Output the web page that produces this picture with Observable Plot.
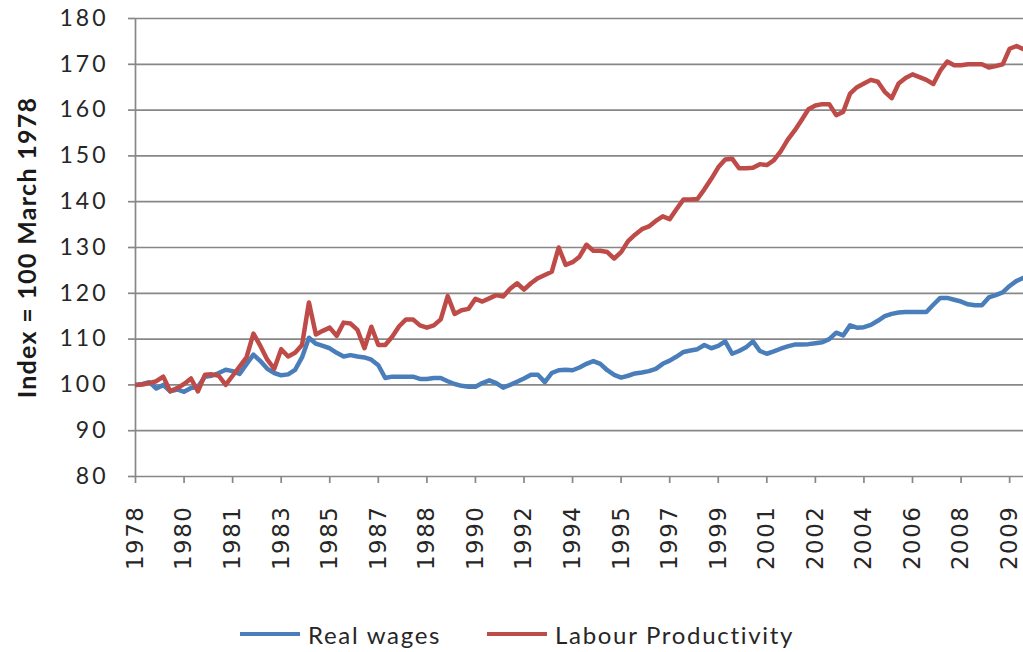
<!DOCTYPE html>
<html>
<head>
<meta charset="utf-8">
<script src="https://cdn.jsdelivr.net/npm/d3@7"></script>
<script src="https://cdn.jsdelivr.net/npm/@observablehq/plot@0.6"></script>
<style>
  html, body { margin: 0; padding: 0; background: #fff; }
  #wrap { position: relative; width: 1023px; height: 652px; overflow: hidden; }
  #legend {
    position: absolute; left: 0; top: 614px; width: 1023px; height: 40px;
    font-family: Lato, "Open Sans", sans-serif; font-size: 24px; color: #262626;
    letter-spacing: 1.7px;
  }
  .item { position: absolute; top: 0; height: 40px; display: flex; align-items: center; }
  .swatch { display: inline-block; width: 60px; height: 4px; margin-right: 8px; }
</style>
</head>
<body>
<div id="wrap">
  <div id="chart"></div>
  <div id="legend"></div>
</div>
<script>
// Quarterly index, March 1978 = 100
const realWages = [
  100.0, 100.2, 100.6, 99.2, 100.0, 98.6, 99.0, 98.5, 99.3, 99.6,
  101.8, 102.0, 102.6, 103.3, 103.0, 102.4, 104.5, 106.6, 105.2, 103.5,
  102.6, 102.1, 102.3, 103.3, 106.0, 110.3, 109.0, 108.5, 108.0, 107.0,
  106.2, 106.5, 106.2, 106.0, 105.5, 104.3, 101.5, 101.8, 101.8, 101.8,
  101.8, 101.3, 101.3, 101.5, 101.5, 100.8, 100.2, 99.8, 99.6, 99.6,
  100.4, 101.0, 100.4, 99.4, 100.0, 100.7, 101.4, 102.2, 102.2, 100.6,
  102.6, 103.2, 103.3, 103.2, 103.8, 104.6, 105.2, 104.6, 103.2, 102.2,
  101.6, 102.0, 102.5, 102.7, 103.0, 103.5, 104.6, 105.3, 106.2, 107.2,
  107.5, 107.8, 108.7, 108.0, 108.5, 109.5, 106.8, 107.4, 108.2, 109.5,
  107.4, 106.8, 107.3, 107.9, 108.4, 108.8, 108.8, 108.9, 109.1, 109.3,
  110.0, 111.4, 110.8, 113.0, 112.5, 112.6, 113.1, 114.0, 115.0, 115.5,
  115.8, 115.9, 115.9, 115.9, 115.9, 117.5, 119.0, 119.0, 118.6, 118.2,
  117.6, 117.4, 117.4, 119.1, 119.6, 120.2, 121.6, 122.7, 123.4
];

const labourProductivity = [
  100.0, 100.1, 100.4, 100.8, 101.8, 98.6, 99.3, 100.2, 101.4, 98.6,
  102.2, 102.3, 102.0, 100.0, 102.0, 104.0, 106.0, 111.2, 108.5, 105.5,
  103.5, 107.8, 106.2, 107.0, 108.7, 118.0, 111.0, 111.8, 112.5, 110.7,
  113.6, 113.4, 112.0, 108.0, 112.7, 108.7, 108.7, 110.5, 112.8, 114.3,
  114.3, 113.0, 112.5, 113.0, 114.3, 119.4, 115.5, 116.3, 116.6, 118.8,
  118.2, 118.9, 119.6, 119.3, 121.0, 122.2, 120.8, 122.2, 123.3, 124.0,
  124.7, 130.0, 126.2, 126.8, 128.0, 130.6, 129.3, 129.3, 129.0, 127.6,
  129.0, 131.4, 132.8, 134.0, 134.6, 135.8, 136.8, 136.2, 138.4, 140.5,
  140.5, 140.6, 142.7, 145.0, 147.5, 149.2, 149.4, 147.3, 147.3, 147.4,
  148.2, 148.0, 149.0, 151.0, 153.5, 155.5, 157.8, 160.2, 161.0, 161.3,
  161.3, 158.9, 159.6, 163.6, 165.0, 165.8, 166.6, 166.2, 164.0, 162.6,
  165.8, 167.0, 167.8, 167.2, 166.6, 165.7, 168.6, 170.6, 169.8, 169.8,
  170.0, 170.0, 170.0, 169.3, 169.6, 170.0, 173.4, 174.0, 173.3
];

// Category labels shown every seventh quarter
const tickLabels = [
  "1978", "1980", "1981", "1983", "1985", "1987", "1988", "1990", "1992", "1994",
  "1995", "1997", "1999", "2001", "2002", "2004", "2006", "2008", "2009"
];
const tickStep = 7;

const seriesNames = ["Real wages", "Labour Productivity"];
const seriesColors = ["#4a7ebb", "#be4b48"];
const yTicks = [80, 90, 100, 110, 120, 130, 140, 150, 160, 170, 180];
const yTitle = "Index = 100 March 1978";

const rows = [];
realWages.forEach((v, i) => rows.push({q: i, value: v, series: seriesNames[0]}));
labourProductivity.forEach((v, i) => rows.push({q: i, value: v, series: seriesNames[1]}));

const tickPositions = tickLabels.map((_, k) => k * tickStep);
const labelAt = new Map(tickPositions.map((p, k) => [p, tickLabels[k]]));

const gridColor = "#878787";

const chart = Plot.plot({
  width: 1023,
  height: 600,
  marginLeft: 135,
  marginRight: 0,
  marginTop: 18,
  marginBottom: 124,
  style: {background: "#fff", color: "#222", fontFamily: "Lato, sans-serif"},
  x: {domain: [0, 128], axis: null},
  y: {domain: [80, 180], axis: null},
  color: {domain: seriesNames, range: seriesColors},
  marks: [
    Plot.ruleY(yTicks, {stroke: gridColor, strokeWidth: 1.7}),
    Plot.ruleX([0], {stroke: gridColor, strokeWidth: 1.7}),
    Plot.axisY(yTicks, {
      tickSize: 7, tickPadding: 20, stroke: gridColor, strokeWidth: 1.7,
      fontSize: 23, fontFamily: "Lato, sans-serif", fill: "#262626", label: null
    }),
    Plot.axisX(tickPositions, {
      tickSize: 7, tickPadding: 22, stroke: gridColor, strokeWidth: 1.7,
      tickRotate: -90, tickFormat: (d) => labelAt.get(d),
      fontSize: 23, fontFamily: "DejaVu Sans, sans-serif", fill: "#262626", label: null
    }),
    Plot.line(rows, {
      x: "q", y: "value", z: "series", stroke: "series",
      strokeWidth: 4.5, strokeLinejoin: "round", strokeLinecap: "round", clip: true
    }),
    Plot.text([yTitle], {
      frameAnchor: "left", dx: -108, rotate: -90, textAnchor: "middle",
      fontSize: 25, fontWeight: "bold", fontFamily: "Lato, sans-serif", fill: "#1a1a1a"
    })
  ]
});

// Wider letter spacing on the axis texts
d3.select(chart).selectAll('g[aria-label="y-axis tick label"] text').attr("letter-spacing", "3px");
d3.select(chart).selectAll('g[aria-label="x-axis tick label"] text').attr("letter-spacing", "1.5px");
d3.select(chart).selectAll('g[aria-label="text"] text').attr("letter-spacing", "1.3px");

document.getElementById("chart").appendChild(chart);

// Legend below the chart
const legend = document.getElementById("legend");
const legendLeft = [240, 487];
seriesNames.forEach((name, k) => {
  const item = document.createElement("div");
  item.className = "item";
  item.style.left = legendLeft[k] + "px";
  const sw = document.createElement("span");
  sw.className = "swatch";
  sw.style.background = seriesColors[k];
  const label = document.createElement("span");
  label.textContent = name;
  item.appendChild(sw);
  item.appendChild(label);
  legend.appendChild(item);
});
</script>
</body>
</html>
